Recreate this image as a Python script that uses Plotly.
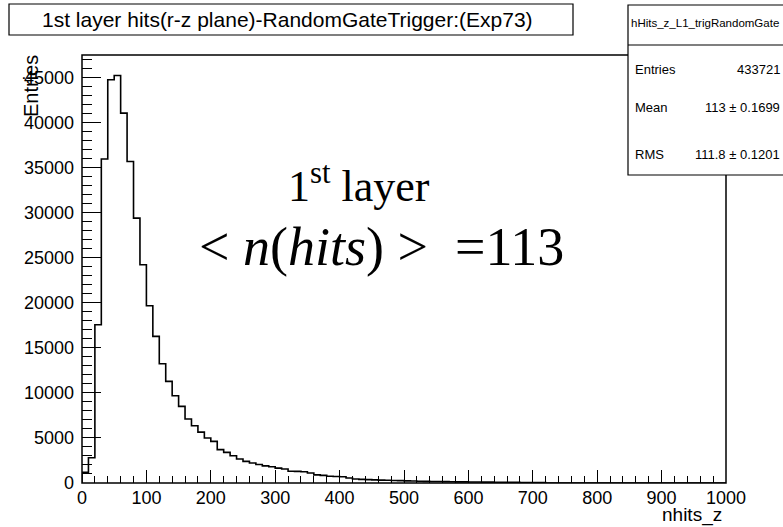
import plotly.graph_objects as go

# Histogram hHits_z_L1_trigRandomGate: 100 bins of width 10 on [0, 1000)
bin_width = 10
bin_low = list(range(0, 1000, bin_width))
counts = [
    1200, 2800, 17560, 35950, 44750, 45220, 41050, 35680, 29400, 24220,
    19670, 16270, 13240, 11280, 9690, 8500, 7100, 6360, 5650, 4990,
    4620, 3700, 3400, 3030, 2660, 2400, 2220, 2050, 1900, 1800,
    1650, 1550, 1300, 1290, 1250, 1110, 900, 850, 750, 720,
    700, 560, 450, 400, 380, 350, 320, 300, 280, 260,
    240, 220, 200, 180, 170, 160, 150, 140, 130, 120,
    115, 110, 100, 95, 90, 80, 75, 70, 60, 55,
    50, 45, 0, 0, 0, 0, 0, 0, 0, 0,
    0, 0, 0, 0, 0, 0, 0, 0, 0, 0,
    0, 0, 0, 0, 0, 0, 0, 0, 0, 0,
]

y_ticks = [0, 5000, 10000, 15000, 20000, 25000, 30000, 35000, 40000, 45000]
x_ticks = [0, 100, 200, 300, 400, 500, 600, 700, 800, 900, 1000]

title_text = "1st layer hits(r-z plane)-RandomGateTrigger:(Exp73)"
hist_name = "hHits_z_L1_trigRandomGate"
stats_rows = [("Entries", "433721"), ("Mean", "113 \u00b1 0.1699"), ("RMS", "111.8 \u00b1 0.1201")]

W, H = 783, 527
ML, MR, MT, MB = 82, 57, 55, 44
PL, PR, PT, PB = ML, W - MR, MT, H - MB


def fx(px):
    return (px - PL) / (PR - PL)


def fy(py):
    return (PB - py) / (PB - PT)


# step outline of the histogram
xs = [bin_low[0]] + bin_low + [bin_low[-1] + bin_width]
ys = [0] + counts + [counts[-1]]

fig = go.Figure()
fig.add_trace(go.Scatter(
    x=xs, y=ys, mode="lines", line=dict(color="black", width=1.6, shape="hv"),
    hoverinfo="skip", showlegend=False,
))

font = "Liberation Sans, Arial, sans-serif"
serif = "Liberation Serif, Times New Roman, serif"

fig.update_layout(
    width=W, height=H,
    margin=dict(l=ML, r=MR, t=MT, b=MB, pad=0),
    paper_bgcolor="white", plot_bgcolor="white",
    font=dict(family=font, color="black"),
    xaxis=dict(
        range=[0, 1000], tickvals=x_ticks, ticktext=[str(v) for v in x_ticks],
        ticks="inside", ticklen=13, tickwidth=1.2, tickcolor="black",
        minor=dict(dtick=20, tick0=0, ticks="inside", ticklen=7, tickwidth=1.2, tickcolor="black"),
        showgrid=False, zeroline=False, showline=False,
        tickfont=dict(size=18, family=font, color="black"),
        ticklabelstandoff=2,
    ),
    yaxis=dict(
        range=[0, 47500], tickvals=y_ticks, ticktext=[str(v) for v in y_ticks],
        ticks="inside", ticklen=19, tickwidth=1.2, tickcolor="black",
        minor=dict(dtick=1000, tick0=0, ticks="inside", ticklen=10, tickwidth=1.2, tickcolor="black"),
        showgrid=False, zeroline=False, showline=False,
        tickfont=dict(size=18, family=font, color="black"),
        ticklabelstandoff=7,
    ),
)

shapes = []
# frame around the pad
shapes.append(dict(type="rect", xref="paper", yref="paper", x0=0, x1=1, y0=0, y1=1,
                   line=dict(color="black", width=1.5), layer="above"))
# title box
shapes.append(dict(type="rect", xref="paper", yref="paper", x0=fx(9), x1=fx(573), y0=fy(35), y1=fy(4),
                   line=dict(color="black", width=1.2), fillcolor="white", layer="above"))
# statistics box
shapes.append(dict(type="rect", xref="paper", yref="paper", x0=fx(628), x1=fx(790), y0=fy(175), y1=fy(5),
                   line=dict(color="black", width=1.2), fillcolor="white", layer="above"))
shapes.append(dict(type="line", xref="paper", yref="paper", x0=fx(628), x1=fx(790), y0=fy(45), y1=fy(45),
                   line=dict(color="black", width=1.2), layer="above"))
fig.update_layout(shapes=shapes)

ann = []
ann.append(dict(x=fx(287), y=fy(19), xref="paper", yref="paper", text=title_text, showarrow=False,
                font=dict(size=21, family=font, color="black"), xanchor="center", yanchor="middle"))
ann.append(dict(x=fx(629), y=fy(23), xref="paper", yref="paper", text=hist_name, showarrow=False,
                font=dict(size=11.5, family=font, color="black"), xanchor="left", yanchor="middle"))
row_y = [70, 107, 154]
for (lab, val), ry in zip(stats_rows, row_y):
    ann.append(dict(x=fx(633), y=fy(ry), xref="paper", yref="paper", text=lab, showarrow=False,
                    font=dict(size=13, family=font, color="black"), xanchor="left", yanchor="middle"))
    ann.append(dict(x=fx(782), y=fy(ry), xref="paper", yref="paper", text=val, showarrow=False,
                    font=dict(size=13, family=font, color="black"), xanchor="right", yanchor="middle"))
# axis titles
ann.append(dict(x=fx(724), y=fy(515), xref="paper", yref="paper", text="nhits_z", showarrow=False,
                font=dict(size=19, family=font, color="black"), xanchor="right", yanchor="middle"))
ann.append(dict(x=fx(31), y=fy(53), xref="paper", yref="paper", text="Entries", showarrow=False,
                textangle=-90, font=dict(size=20, family=font, color="black"),
                xanchor="center", yanchor="top"))
# in-pad labels
ann.append(dict(x=fx(359), y=fy(184), xref="paper", yref="paper", text="1<sup>st</sup> layer", showarrow=False,
                font=dict(size=44, family=serif, color="black"), xanchor="center", yanchor="middle"))
ann.append(dict(x=fx(381), y=fy(247), xref="paper", yref="paper",
                text="&lt; <i>n</i>(<i>hits</i>) &gt;  =113", showarrow=False,
                font=dict(size=54, family=serif, color="black"), xanchor="center", yanchor="middle"))
fig.update_layout(annotations=ann)

fig.write_html("out.html")
